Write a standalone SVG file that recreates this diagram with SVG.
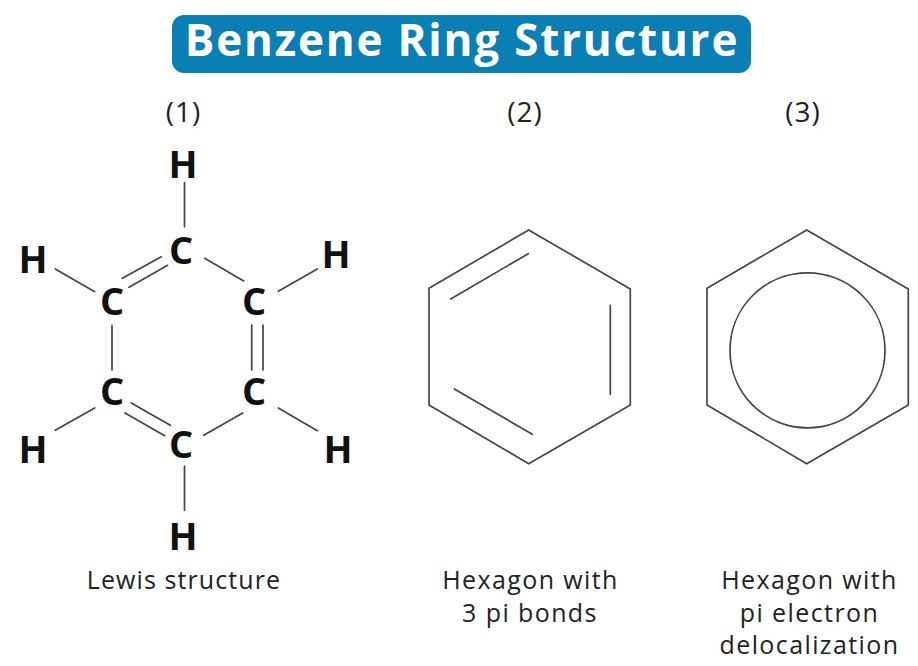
<svg xmlns="http://www.w3.org/2000/svg" width="918" height="666" viewBox="0 0 918 666">
<style>
.b{stroke:#454545;stroke-width:1.7;fill:none;stroke-linecap:round;stroke-linejoin:miter}
.a{font-family:"Open Sans","Liberation Sans",sans-serif;font-weight:700;font-size:38px;fill:#111;text-anchor:middle}
.l{font-family:"Open Sans","Liberation Sans",sans-serif;font-size:25px;fill:#222;text-anchor:middle;letter-spacing:1.4px}
.n{font-family:"Open Sans","Liberation Sans",sans-serif;font-size:28px;fill:#222;text-anchor:middle;letter-spacing:1px}
.t{font-family:"Open Sans","Liberation Sans",sans-serif;font-weight:700;font-size:44px;fill:#fff;text-anchor:middle;letter-spacing:1.8px}
</style>
<rect width="918" height="666" fill="#fff"/>
<g id="title"><rect x="172" y="15" width="579" height="58" rx="12" fill="#0a7fb6"/><text class="t" x="462" y="56">Benzene Ring Structure</text></g>
<g id="captions">
<text class="n" x="183.500" y="122">(1)</text>
<text class="n" x="525" y="122">(2)</text>
<text class="n" x="803" y="122">(3)</text>
<text class="l" x="184" y="589" style="letter-spacing:1.1px">Lewis structure</text>
<text class="l" x="530.500" y="589">Hexagon with</text>
<text class="l" x="530" y="622">3 pi bonds</text>
<text class="l" x="809.500" y="589">Hexagon with</text>
<text class="l" x="809.500" y="622">pi electron</text>
<text class="l" x="809.500" y="654">delocalization</text>
</g>
<g id="connectors">
<path class="b" d="M184.500 182.700V226.700M122.300 278.300L161.300 256.700M129 287.300L167.700 265.300M204.700 258.300L243.700 281M278.300 291.300L317.300 269M55.300 269L94.700 291.700M112 325.700V370M251.700 325V370M263 325V370M55.300 430.300L94.700 408M131.300 403L170.300 425.300M125 413L164.700 435.700M203.700 435.300L242.700 413M278.300 408L317.300 430.700M184.500 466V510.300"/>
</g>
<g id="lewis-atoms">
<text class="a" x="183" y="178">H</text>
<text class="a" x="33" y="273">H</text>
<text class="a" x="336" y="268">H</text>
<text class="a" x="33" y="463">H</text>
<text class="a" x="338" y="463">H</text>
<text class="a" x="183" y="550">H</text>
<text class="a" x="181" y="264">C</text>
<text class="a" x="112" y="315">C</text>
<text class="a" x="254" y="315">C</text>
<text class="a" x="112" y="405">C</text>
<text class="a" x="254" y="405">C</text>
<text class="a" x="181" y="458">C</text>
</g>
<g id="hexagon-pi-bonds">
<path class="b" d="M528.700 230L630.300 289V405L528.700 463.700L429 405V288.300Z"/>
<path class="b" d="M450.700 299L528.300 253.700M610.300 305.300V394.300M454.300 389L532.300 434.300"/>
</g>
<g id="hexagon-delocalized">
<path class="b" d="M806.700 230L908.300 289V405L806.700 463.700L707 405V288.300Z"/>
<circle class="b" cx="807.500" cy="350.300" r="77.500"/>
</g>
</svg>
